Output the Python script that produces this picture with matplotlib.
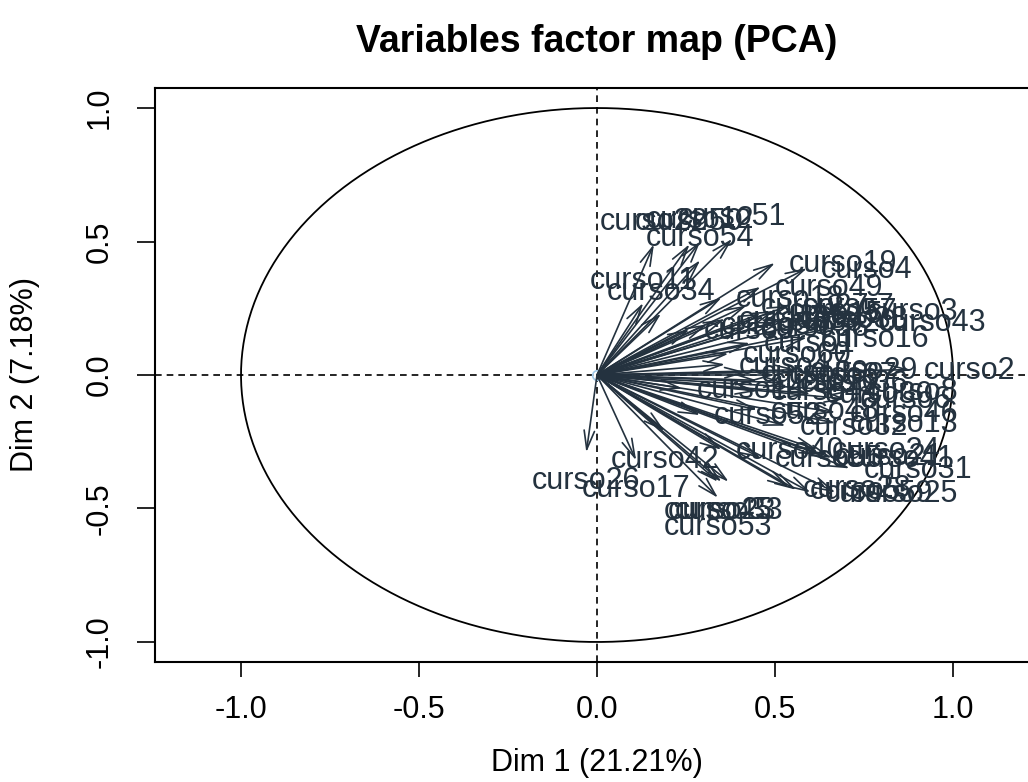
import numpy as np
import matplotlib
matplotlib.use("Agg")
import matplotlib.pyplot as plt

plt.rcParams['font.family'] = ['Liberation Sans', 'DejaVu Sans']

fontsize = 22
dark = '#24323f'

title = "Variables factor map (PCA)"
xlabel = "Dim 1 (21.21%)"
ylabel = "Dim 2 (7.18%)"

# coordinates of the variables on dim 1 / dim 2
var_names = ["curso22", "curso50", "curso12", "curso51", "curso54", "curso11",
             "curso34", "curso19", "curso4", "curso49", "curso18", "curso27",
             "curso57", "curso7", "curso3", "curso43", "curso15", "curso35",
             "curso38", "curso20", "curso56", "curso9", "curso58", "curso16",
             "curso1", "curso60", "curso47", "curso39", "curso29", "curso2",
             "curso37", "curso10", "curso36", "curso14", "curso44", "curso30",
             "curso8", "curso6", "curso52", "curso48", "curso46", "curso13",
             "curso32", "curso40", "curso24", "curso21", "curso41", "curso55",
             "curso31", "curso28", "curso5", "curso59", "curso25", "curso42",
             "curso26", "curso17", "curso45", "curso23", "curso33", "curso53"]

dim1 = [0.16, 0.26, 0.29, 0.38, 0.29, 0.13,
        0.18, 0.50, 0.59, 0.46, 0.35, 0.42,
        0.50, 0.54, 0.72, 0.75, 0.46, 0.36,
        0.53, 0.50, 0.31, 0.26, 0.42, 0.59,
        0.43, 0.37, 0.36, 0.42, 0.56, 0.88,
        0.50, 0.45, 0.53, 0.24, 0.45, 0.60,
        0.72, 0.70, 0.29, 0.45, 0.67, 0.67,
        0.53, 0.35, 0.62, 0.63, 0.66, 0.46,
        0.71, 0.54, 0.56, 0.60, 0.67, 0.19,
        -0.03, 0.11, 0.34, 0.35, 0.37, 0.34]

dim2 = [0.49, 0.49, 0.50, 0.51, 0.43, 0.27,
        0.23, 0.42, 0.40, 0.33, 0.29, 0.26,
        0.24, 0.26, 0.24, 0.20, 0.23, 0.21,
        0.21, 0.20, 0.19, 0.17, 0.18, 0.14,
        0.12, 0.08, 0.04, 0.01, 0.02, 0.02,
        0.00, -0.02, -0.03, -0.05, -0.06, -0.07,
        -0.06, -0.09, -0.15, -0.13, -0.14, -0.18,
        -0.19, -0.28, -0.28, -0.30, -0.31, -0.31,
        -0.35, -0.42, -0.43, -0.44, -0.44, -0.21,
        -0.29, -0.32, -0.40, -0.40, -0.40, -0.46]

xticks = [-1.0, -0.5, 0.0, 0.5, 1.0]
yticks = [-1.0, -0.5, 0.0, 0.5, 1.0]


fig = plt.figure(figsize=(10.28, 7.82), dpi=100)
ax = fig.add_axes([155 / 1028, 1 - 662 / 782, (1039 - 155) / 1028, (662 - 88) / 782])

ax.set_xlim(-1.2416, 1.2416)
ax.set_ylim(-1.075, 1.075)

# correlation circle and axes lines
t = np.linspace(0, 2 * np.pi, 400)
ax.plot(np.cos(t), np.sin(t), color='black', lw=1.3)
ax.axhline(0, color='black', lw=1.2, linestyle=(0, (4, 3)))
ax.axvline(0, color='black', lw=1.2, linestyle=(0, (4, 3)))
ax.plot([0], [0], 'o', mfc='none', mec='#9fc8e8', ms=7, mew=1.2)

for name, x, y in zip(var_names, dim1, dim2):
    ax.annotate("", xy=(x, y), xytext=(0, 0),
                arrowprops=dict(arrowstyle="->,head_length=0.9,head_width=0.25",
                                color=dark, lw=1.2, shrinkA=0, shrinkB=0,
                                mutation_scale=15))
    if abs(x) > abs(y):
        if x >= 0:
            off, ha, va = (10, 1.5), 'left', 'center_baseline'
        else:
            off, ha, va = (-10, 1.5), 'right', 'center_baseline'
    else:
        if y >= 0:
            off, ha, va = (0, 10), 'center', 'baseline'
        else:
            off, ha, va = (0, -10), 'center', 'top'
    ax.annotate(name, xy=(x, y), xytext=off, textcoords='offset points',
                ha=ha, va=va, color=dark, fontsize=fontsize)

ax.set_xticks(xticks)
ax.set_xticklabels(["%.1f" % v for v in xticks], fontsize=fontsize)
ax.set_yticks(yticks)
ax.set_yticklabels(["%.1f" % v for v in yticks], fontsize=fontsize,
                   rotation=90, va='center')
ax.tick_params(axis='x', length=11, width=1.2, pad=13)
ax.tick_params(axis='y', length=13, width=1.2, pad=16)
for s in ax.spines.values():
    s.set_linewidth(1.5)

ax.set_xlabel(xlabel, fontsize=fontsize, labelpad=16)
ax.set_ylabel(ylabel, fontsize=fontsize, labelpad=32)
ax.set_title(title, fontsize=27, fontweight='bold', pad=26)

fig.savefig("out.png", dpi=100)
